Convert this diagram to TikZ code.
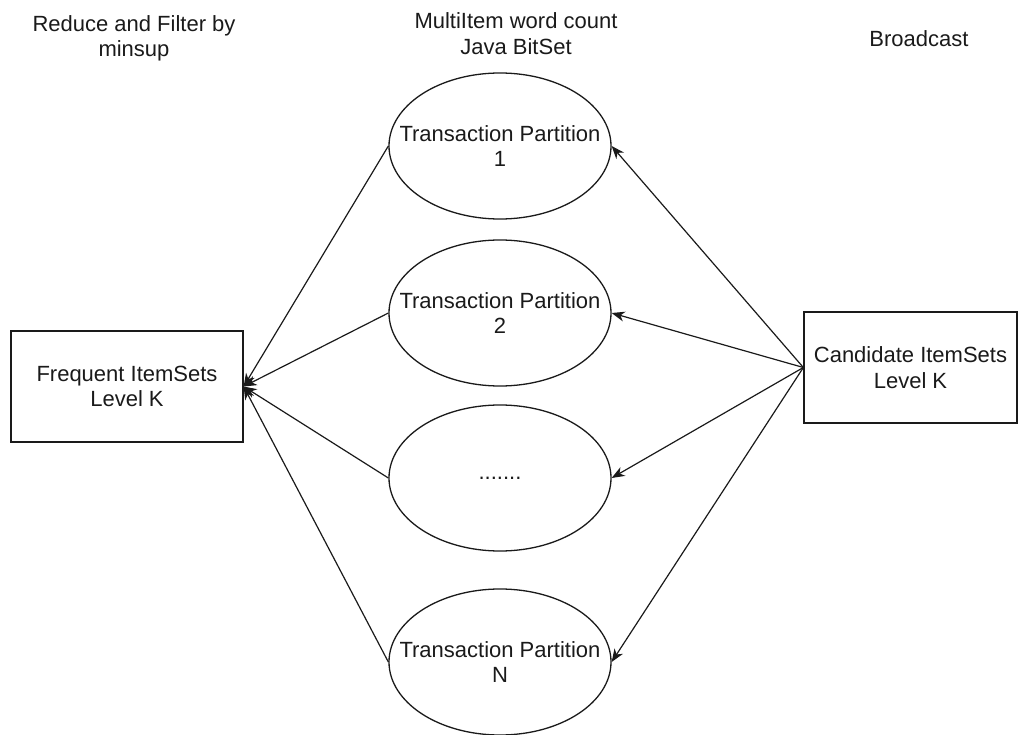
\documentclass[tikz,border=0pt]{standalone}
\usepackage{fontspec}
\setmainfont{Liberation Sans}
\usetikzlibrary{shapes.geometric,arrows.meta}
\definecolor{inkgray}{HTML}{1A1A1A}

\begin{document}
\begin{tikzpicture}[x=1pt,y=-1pt,
    every node/.style={font=\fontsize{22}{25.5}\selectfont, align=center, text=inkgray},
    itembox/.style={draw=inkgray, line width=1.3pt, rectangle, inner sep=0pt},
    partition/.style={draw=inkgray, line width=1.3pt, ellipse,
      minimum width=222pt, minimum height=146pt, inner xsep=-45pt, inner ysep=0pt},
    flow/.style={draw=inkgray, line width=1.2pt,
      -{Stealth[length=13pt,width=10pt,inset=4pt]}}
  ]
    \useasboundingbox (0,0) rectangle (1018,735);

    % headings
    \node (reduce) at (134,38.5) {Reduce and Filter by\\minsup};
    \node (multi)  at (516,33.5) {MultiItem word count\\Java BitSet};
    \node (bcast)  at (919,39)   {Broadcast};

    % item sets
    \node[itembox, minimum width=232pt, minimum height=111pt]
      (freq) at (127,386.5) {Frequent ItemSets\\Level K};
    \node[itembox, minimum width=213pt, minimum height=111pt]
      (cand) at (910.5,367.5) {Candidate ItemSets\\Level K};

    % partitions
    \node[partition] (part1) at (500,146) {Transaction Partition\\1};
    \node[partition] (part2) at (500,313) {Transaction Partition\\2};
    \node[partition] (partx) at (500,478) {.......};
    \node[partition] (partn) at (500,662) {Transaction Partition\\N};

    \foreach \p in {part1,part2,partx,partn} {
      \draw[flow] (cand.west) -- (\p.east);
      \draw[flow] (\p.west) -- (freq.east);
    }
  \end{tikzpicture}
\end{document}
